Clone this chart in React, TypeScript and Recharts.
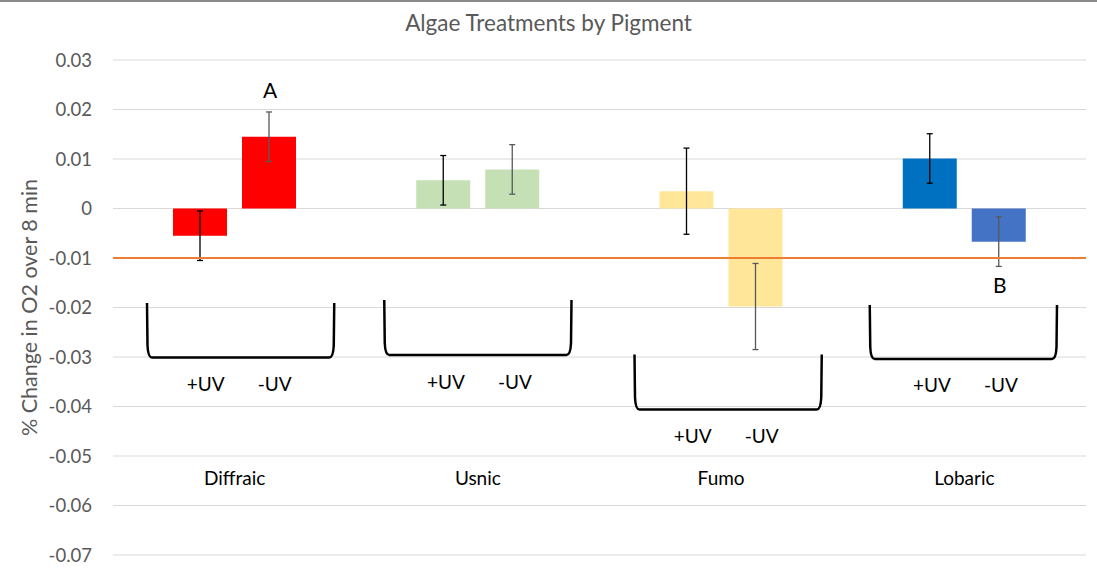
import React from 'react';
import {
  BarChart,
  Bar,
  XAxis,
  YAxis,
  CartesianGrid,
  ErrorBar,
  Cell,
  ReferenceLine,
  ReferenceArea,
  ReferenceDot,
  LabelList,
} from 'recharts';

// pigments (categories)
const categories = ['Diffraic', 'Usnic', 'Fumo', 'Lobaric'];

// mean % change in O2 over 8 min
const plusUV = [-0.0055, 0.0057, 0.0035, 0.0101];
const minusUV = [0.0145, 0.0079, -0.0198, -0.0067];

// error bar sizes
const plusUVErr = [0.005, 0.005, 0.0087, 0.005];
const minusUVErr = [0.005, 0.005, 0.0087, 0.005];

// significance letters on the -UV bars
const significance = ['A', '', '', 'B'];

const plusUVColors = ['#FF0000', '#C5E0B4', '#FFE699', '#0070C0'];
const minusUVColors = ['#FF0000', '#C5E0B4', '#FFE699', '#4472C4'];

// bracket annotations under each pigment (y values)
const bracketTop = [-0.0191, -0.0185, -0.0295, -0.0195];
const bracketBottom = [-0.0301, -0.0296, -0.0406, -0.0304];

const yTicks = [0.03, 0.02, 0.01, 0, -0.01, -0.02, -0.03, -0.04, -0.05, -0.06, -0.07];
const threshold = -0.01;
const categoryLabelLevel = -0.0545;

const data = categories.map((name, i) => ({
  name,
  plus: plusUV[i],
  minus: minusUV[i],
  plusErr: plusUVErr[i],
  minusErr: minusUVErr[i],
  sig: significance[i],
}));

const FONT = 'Lato, "Open Sans", sans-serif';

// hand-drawn brackets sit a little off-centre in the original
const bracketNudge: Record<string, number> = { Diffraic: 6, Usnic: 0, Fumo: 7, Lobaric: -1 };

const fmt = (v: number) => String(Math.round(v * 100) / 100);

const makeBracket = (name: string) => (props: any) => {
  const { x, y, width, height } = props;
  const inset = 28;
  const shift = bracketNudge[name] || 0;
  const x0 = x + inset + shift;
  const x1 = x + width - inset + shift;
  const top = y;
  const bottom = y + height;
  const cx = x + width / 2;
  const d = `M ${x0} ${top} L ${x0 + 0.5} ${bottom - 12} Q ${x0 + 1} ${bottom} ${x0 + 5} ${bottom} L ${x1 - 5} ${bottom} Q ${x1 - 1} ${bottom} ${x1 - 0.5} ${bottom - 12} L ${x1} ${top}`;
  return (
    <g>
      <path d={d} fill="none" stroke="#000" strokeWidth={2.5} />
      <text x={cx - 32 + shift / 2} y={bottom + 26} textAnchor="middle" dominantBaseline="central" fontSize={19} fontFamily={FONT} fill="#000">
        +UV
      </text>
      <text x={cx + 37 + shift / 2} y={bottom + 26} textAnchor="middle" dominantBaseline="central" fontSize={19} fontFamily={FONT} fill="#000">
        -UV
      </text>
    </g>
  );
};

const SigLabel = (props: any) => {
  const { x, y, width, height, value, index } = props;
  if (!value) return null;
  const topY = Math.min(y, y + height);
  const botY = Math.max(y, y + height);
  const ty = minusUV[index] >= 0 ? topY - 47 : botY + 43;
  return (
    <text x={x + width / 2 + 1} y={ty} textAnchor="middle" dominantBaseline="central" fontSize={21} fontFamily={FONT} fill="#000">
      {value}
    </text>
  );
};

export default function App() {
  return (
    <div style={{ position: 'absolute', left: 0, top: 0, width: 1097, height: 574, background: '#fff', fontFamily: FONT }}>
      <div style={{ position: 'absolute', left: 0, top: 0, width: 1097, height: 2, background: '#8a8a8a' }} />
      <div
        style={{
          position: 'absolute',
          top: 10,
          left: 0,
          width: 1097,
          textAlign: 'center',
          fontSize: 22.5,
          lineHeight: '26px',
          color: '#595959',
        }}
      >
        Algae Treatments by Pigment
      </div>
      <BarChart
        width={1097}
        height={574}
        data={data}
        margin={{ top: 60, right: 11, bottom: 19, left: 0 }}
        barSize={54}
        barGap={15}
      >
        <CartesianGrid vertical={false} stroke="#D9D9D9" strokeWidth={1} />
        <XAxis dataKey="name" hide />
        <YAxis
          width={113}
          domain={[-0.07, 0.03]}
          ticks={yTicks}
          tickFormatter={fmt}
          axisLine={false}
          tickLine={false}
          tickMargin={15}
          tick={{ fill: '#595959', fontSize: 18.5, fontFamily: FONT }}
          label={{
            value: '% Change in O2 over 8 min',
            angle: -90,
            position: 'center',
            dx: -27,
            fill: '#595959',
            fontSize: 21.5,
            fontFamily: FONT,
          }}
        />
        <Bar dataKey="plus" isAnimationActive={false}>
          {data.map((d, i) => (
            <Cell key={d.name} fill={plusUVColors[i]} />
          ))}
          <ErrorBar dataKey="plusErr" width={3} stroke="#000" strokeWidth={1.3} />
        </Bar>
        <Bar dataKey="minus" isAnimationActive={false}>
          {data.map((d, i) => (
            <Cell key={d.name} fill={minusUVColors[i]} />
          ))}
          <ErrorBar dataKey="minusErr" width={3} stroke="#595959" strokeWidth={1.3} />
          <LabelList dataKey="sig" content={SigLabel} />
        </Bar>
        <ReferenceLine y={threshold} stroke="#ED7D31" strokeWidth={2} />
        {categories.map((c, i) => (
          <ReferenceArea
            key={`br-${c}`}
            x1={c}
            x2={c}
            y1={bracketTop[i]}
            y2={bracketBottom[i]}
            shape={makeBracket(c)}
          />
        ))}
        {categories.map((c) => (
          <ReferenceDot
            key={`lbl-${c}`}
            x={c}
            y={categoryLabelLevel}
            r={0}
            stroke="none"
            label={{ value: c, position: 'center', fill: '#000', fontSize: 19, fontFamily: FONT }}
          />
        ))}
      </BarChart>
    </div>
  );
}
